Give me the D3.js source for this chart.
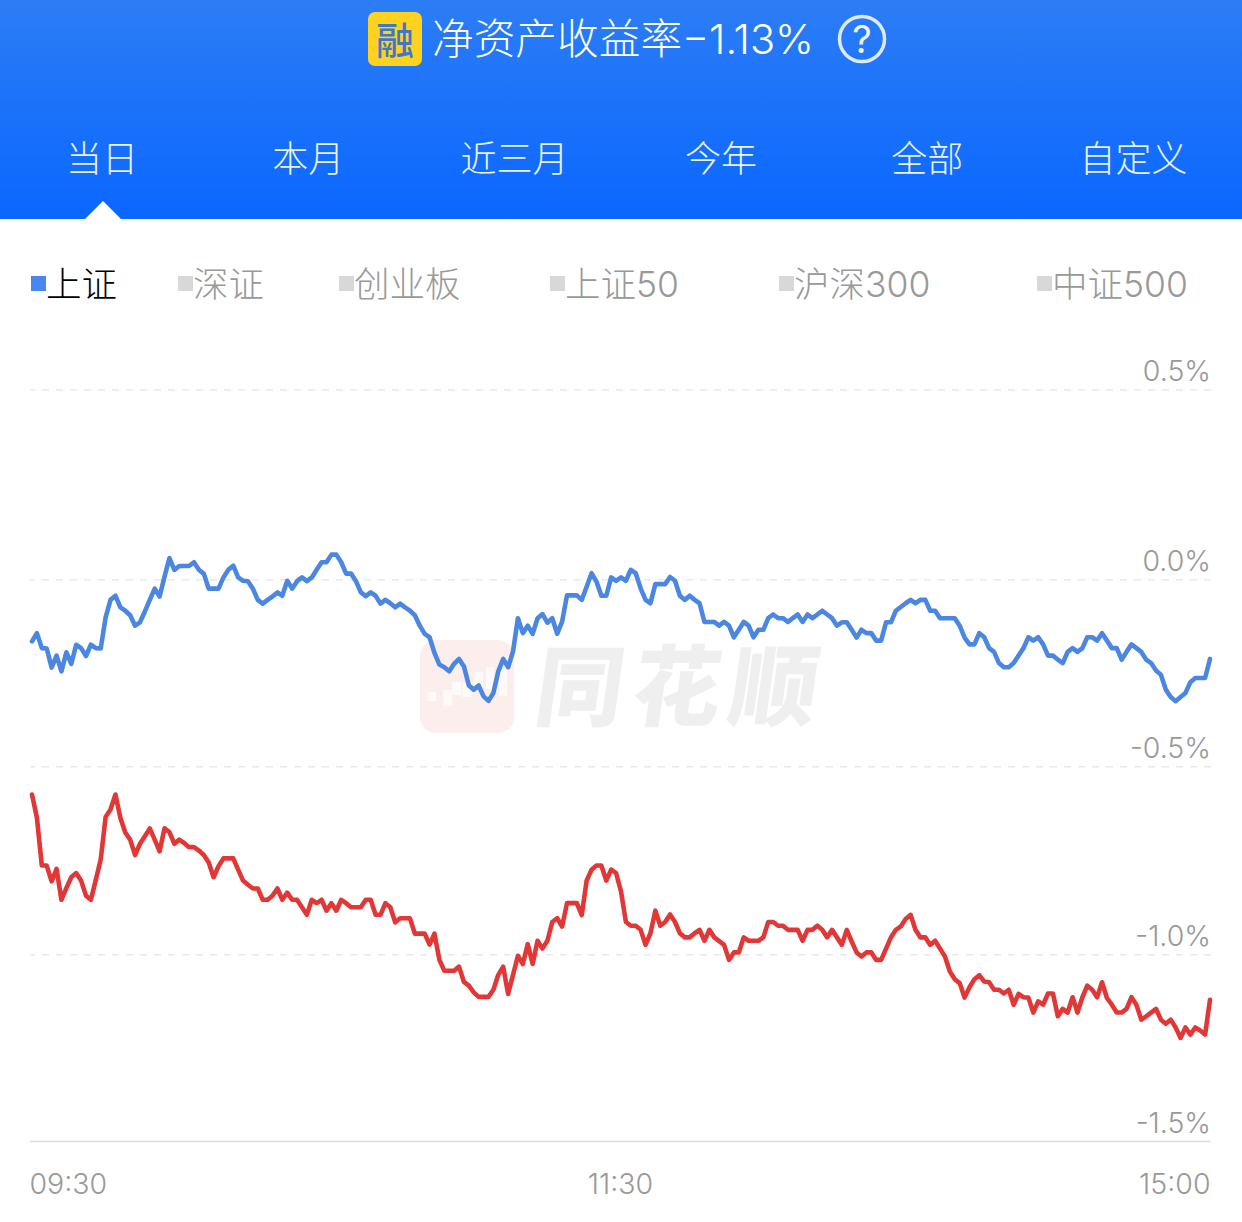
<!DOCTYPE html>
<html><head><meta charset="utf-8">
<script src="https://cdn.jsdelivr.net/npm/d3@7"></script>
<style>
html,body{margin:0;padding:0;background:#fff;}
svg{display:block;}
text{font-family:Inter,"Noto Sans CJK SC","Noto Sans",sans-serif;}
</style></head><body>
<svg id="c" width="1242" height="1222"></svg>
<script>
const titleName = "净资产收益率";
const titleValue = "−1.13%";
const tabs = ["当日","本月","近三月","今年","全部","自定义"];
const legendItems = ["上证","深证","创业板","上证50","沪深300","中证500"];
const yTickValues = [0.5,0,-0.5,-1,-1.5];
const yTickLabels = ["0.5%","0.0%","-0.5%","-1.0%","-1.5%"];
const xTickValues = [0,120,240];
const xTickLabels = ["09:30","11:30","15:00"];
const blueValues = [
-0.166,-0.144,-0.184,-0.185,-0.236,-0.204,-0.246,-0.195,-0.226,-0.175,-0.184,-0.205,-0.175,-0.184,-0.185,-0.102,-0.055,-0.044,-0.075,-0.084,
-0.096,-0.124,-0.115,-0.086,-0.055,-0.025,-0.046,0.007,0.056,0.025,0.035,0.035,0.035,0.045,0.025,0.015,-0.025,-0.025,-0.025,0.005,
0.025,0.036,0.005,-0.004,-0.005,-0.025,-0.055,-0.065,-0.055,-0.046,-0.035,-0.044,-0.004,-0.025,-0.005,0.005,-0.005,0.005,0.025,0.045,
0.045,0.065,0.065,0.045,0.015,0.015,-0.005,-0.035,-0.045,-0.035,-0.044,-0.065,-0.055,-0.064,-0.075,-0.065,-0.075,-0.084,-0.096,-0.124,
-0.146,-0.155,-0.197,-0.228,
-0.235,-0.246,-0.226,-0.213,-0.233,-0.284,-0.295,-0.284,-0.313,-0.325,-0.304,-0.246,-0.213,-0.235,-0.193,-0.104,-0.144,-0.124,-0.146,-0.104,
-0.093,-0.116,-0.104,-0.146,-0.113,-0.043,-0.043,-0.043,-0.055,-0.020,0.016,-0.006,-0.044,-0.044,0.005,-0.004,0.005,-0.004,0.025,0.016,
-0.024,-0.055,-0.064,-0.013,-0.013,-0.013,0.006,-0.004,-0.044,-0.055,-0.044,-0.055,-0.064,-0.114,-0.114,-0.114,-0.124,-0.114,-0.124,-0.155,
-0.135,-0.114,-0.124,-0.155,-0.135,-0.135,-0.104,-0.094,-0.104,-0.104,-0.114,-0.104,-0.094,-0.114,-0.094,-0.104,-0.094,-0.084,-0.094,-0.104,-0.124,
-0.115,-0.115,-0.135,-0.156,-0.135,-0.144,-0.144,-0.164,-0.164,-0.115,-0.115,-0.084,-0.074,-0.064,-0.055,-0.064,-0.055,-0.055,-0.084,-0.084,
-0.104,-0.104,-0.104,-0.104,-0.124,-0.156,-0.174,-0.174,-0.144,-0.155,-0.184,-0.194,-0.224,-0.235,-0.235,-0.224,-0.204,-0.184,-0.155,-0.164,
-0.155,-0.174,-0.204,-0.204,-0.215,-0.224,-0.194,-0.184,-0.194,-0.184,-0.155,-0.155,-0.164,-0.144,-0.164,-0.184,-0.184,-0.215,-0.194,-0.174,
-0.184,-0.194,-0.215,-0.224,-0.244,-0.255,-0.295,-0.315,-0.326,-0.315,-0.304,-0.275,-0.264,-0.264,-0.264,-0.213];
const redValues = [
-0.575,-0.637,-0.764,-0.764,-0.806,-0.773,-0.855,-0.824,-0.795,-0.784,-0.804,-0.844,-0.855,-0.802,-0.748,-0.635,-0.615,-0.575,-0.637,-0.676,
-0.695,-0.736,-0.706,-0.686,-0.665,-0.695,-0.726,-0.665,-0.675,-0.706,-0.695,-0.704,-0.715,-0.715,-0.724,-0.736,-0.756,-0.795,-0.766,-0.745,
-0.745,-0.745,-0.775,-0.804,-0.815,-0.825,-0.825,-0.855,-0.855,-0.844,-0.825,-0.855,-0.836,-0.855,-0.855,-0.875,-0.895,-0.855,-0.864,-0.855,
-0.884,-0.864,-0.884,-0.855,-0.864,-0.875,-0.875,-0.875,-0.855,-0.855,-0.895,-0.895,-0.864,-0.875,-0.915,-0.904,-0.904,-0.904,-0.945,-0.945,
-0.945,-0.974,-0.945,-1.015,
-1.044,-1.044,-1.044,-1.033,-1.074,-1.084,-1.102,-1.114,-1.114,-1.114,-1.095,-1.055,-1.033,-1.106,-1.055,-1.004,-1.026,-0.973,-1.026,-0.964,
-0.985,-0.964,-0.914,-0.904,-0.926,-0.864,-0.864,-0.864,-0.896,-0.804,-0.775,-0.764,-0.764,-0.804,-0.775,-0.784,-0.833,-0.914,-0.924,-0.924,
-0.935,-0.975,-0.944,-0.884,-0.924,-0.914,-0.894,-0.914,-0.944,-0.955,-0.955,-0.944,-0.935,-0.964,-0.935,-0.955,-0.965,-0.975,-1.015,-0.995,
-0.995,-0.955,-0.964,-0.964,-0.964,-0.955,-0.914,-0.914,-0.924,-0.924,-0.935,-0.935,-0.935,-0.964,-0.935,-0.935,-0.924,-0.935,-0.955,-0.935,-0.955,
-0.975,-0.935,-0.966,-0.995,-1.006,-0.995,-0.995,-1.015,-1.015,-0.985,-0.955,-0.935,-0.926,-0.906,-0.895,-0.935,-0.955,-0.955,-0.975,-0.964,
-0.985,-1.006,-1.046,-1.067,-1.077,-1.116,-1.088,-1.067,-1.056,-1.073,-1.075,-1.095,-1.095,-1.105,-1.095,-1.135,-1.106,-1.115,-1.116,-1.156,
-1.126,-1.135,-1.105,-1.105,-1.166,-1.146,-1.156,-1.115,-1.156,-1.115,-1.084,-1.095,-1.115,-1.075,-1.117,-1.135,-1.156,-1.156,-1.146,-1.115,
-1.135,-1.175,-1.166,-1.156,-1.146,-1.175,-1.186,-1.175,-1.196,-1.224,-1.196,-1.215,-1.196,-1.204,-1.215,-1.122];

const svg = d3.select("#c");
const defs = svg.append("defs");
const grad = defs.append("linearGradient").attr("id","hdr").attr("x1",0).attr("y1",0).attr("x2",0).attr("y2",1);
grad.append("stop").attr("offset","0").attr("stop-color","#2c7df5");
grad.append("stop").attr("offset","1").attr("stop-color","#0a67ff");

// header
svg.append("rect").attr("width",1242).attr("height",219).attr("fill","url(#hdr)");
svg.append("path").attr("d","M85,219L103,201L121,219Z").attr("fill","#fff");
svg.append("rect").attr("x",368).attr("y",12).attr("width",54).attr("height",54).attr("rx",7).attr("fill","#ffd21f");
svg.append("text").attr("x",395).attr("y",54).attr("text-anchor","middle").attr("font-size",38).attr("font-weight",500).attr("fill","#3f78c4")
  .style("font-family",'"Noto Sans CJK SC"').text("融");
svg.append("text").attr("x",432).attr("y",54).attr("font-size",41.7).attr("font-weight",300).attr("fill","#fff")
  .style("font-family",'"Noto Sans CJK SC"').text(titleName);
svg.append("text").attr("x",682).attr("y",54).attr("font-size",41.5).attr("font-weight",300).attr("fill","#fff").text(titleValue);
svg.append("circle").attr("cx",862).attr("cy",39).attr("r",22.5).attr("fill","none").attr("stroke","#dfeaff").attr("stroke-width",3.5);
svg.append("text").attr("x",862).attr("y",53).attr("text-anchor","middle").attr("font-size",38).attr("font-weight",400).attr("fill","#f0f5ff").text("?");

const tabCenters = d3.scalePoint().domain(tabs).range([102,1133.5]);
svg.append("g").selectAll("text").data(tabs).join("text")
  .attr("x",d=>tabCenters(d)).attr("y",171.5).attr("text-anchor","middle")
  .attr("font-size",36).attr("font-weight",300).attr("fill","#eaf2ff")
  .style("font-family",'"Noto Sans CJK SC"').text(d=>d);

// legend
const legendX = d3.scaleOrdinal().domain(legendItems).range([31,178,339,550,779,1037]);
const lg = svg.append("g").selectAll("g").data(legendItems).join("g").attr("transform",d=>`translate(${legendX(d)},0)`);
lg.append("rect").attr("y",276).attr("width",15).attr("height",15).attr("fill",(d,i)=>i?"#d8d8d8":"#4a86f0");
lg.append("text").attr("x",15).attr("y",297).attr("font-size",35.5).attr("font-weight",300)
  .attr("fill",(d,i)=>i?"#999":"#000").text(d=>d);

// watermark
const wm = svg.append("g");
wm.append("rect").attr("x",420).attr("y",640).attr("width",94).attr("height",93).attr("rx",16).attr("fill","#fdeeee");
[[427,692,9,9],[443,690,9,16],[452,682,9,13],[462,683,9,14],[474,672,9,18],[486,667,8,22],[499,670,8,26]].forEach(r=>
  wm.append("rect").attr("x",r[0]).attr("y",r[1]).attr("width",r[2]).attr("height",r[3]).attr("fill","#fff").attr("opacity",.7));
wm.append("text").attr("transform","translate(532,719) skewX(-8)").attr("font-size",88).attr("font-weight",900)
  .attr("fill","#efefef").attr("textLength",282).style("font-family",'"Noto Sans CJK SC"').text("同花顺");

// scales and axes
const y = d3.scaleLinear().domain([-1.5,-1,-0.5,0,0.5]).range([1141,954.3,766.3,579.3,389.5]);
const x = d3.scaleLinear().domain([0,240]).range([32,1210]);

const yAxis = d3.axisLeft(y).tickValues(yTickValues).tickSize(1181)
  .tickFormat(d=>yTickLabels[yTickValues.indexOf(d)]);
const gy = svg.append("g").attr("transform","translate(1211,0)").call(yAxis);
gy.select(".domain").remove();
gy.selectAll("line").attr("stroke",d=>d===-1.5?"#dcdcdc":"#e9e9e9").attr("stroke-width",1.5)
  .attr("stroke-dasharray",d=>d===-1.5?null:"7 7");
gy.selectAll("text").attr("x",0).attr("dy",0).attr("y",-9).attr("text-anchor","end")
  .attr("font-size",28.5).attr("font-weight",300).attr("fill","#999").style("font-family",'Inter,sans-serif');

const xAxis = d3.axisBottom(x).tickValues(xTickValues).tickSize(0)
  .tickFormat(d=>xTickLabels[xTickValues.indexOf(d)]);
const gx = svg.append("g").attr("transform","translate(0,1141)").call(xAxis);
gx.select(".domain").remove();
gx.selectAll("text").attr("dy",0).attr("y",53)
  .attr("text-anchor",(d,i)=>["start","middle","end"][i]).attr("dx",(d,i)=>[-3,-1,0][i])
  .attr("font-size",28.5).attr("font-weight",300).attr("fill","#999").style("font-family",'Inter,sans-serif');

// lines
const line = d3.line().x((d,i)=>x(i)).y(d=>y(d));
[[blueValues,"#4a86e2"],[redValues,"#e23737"]].forEach(([vals,col])=>{
  svg.append("path").datum(vals).attr("d",line).attr("fill","none").attr("stroke",col)
    .attr("stroke-width",4.6).attr("stroke-linejoin","round").attr("stroke-linecap","round");
});
</script>
</body></html>
